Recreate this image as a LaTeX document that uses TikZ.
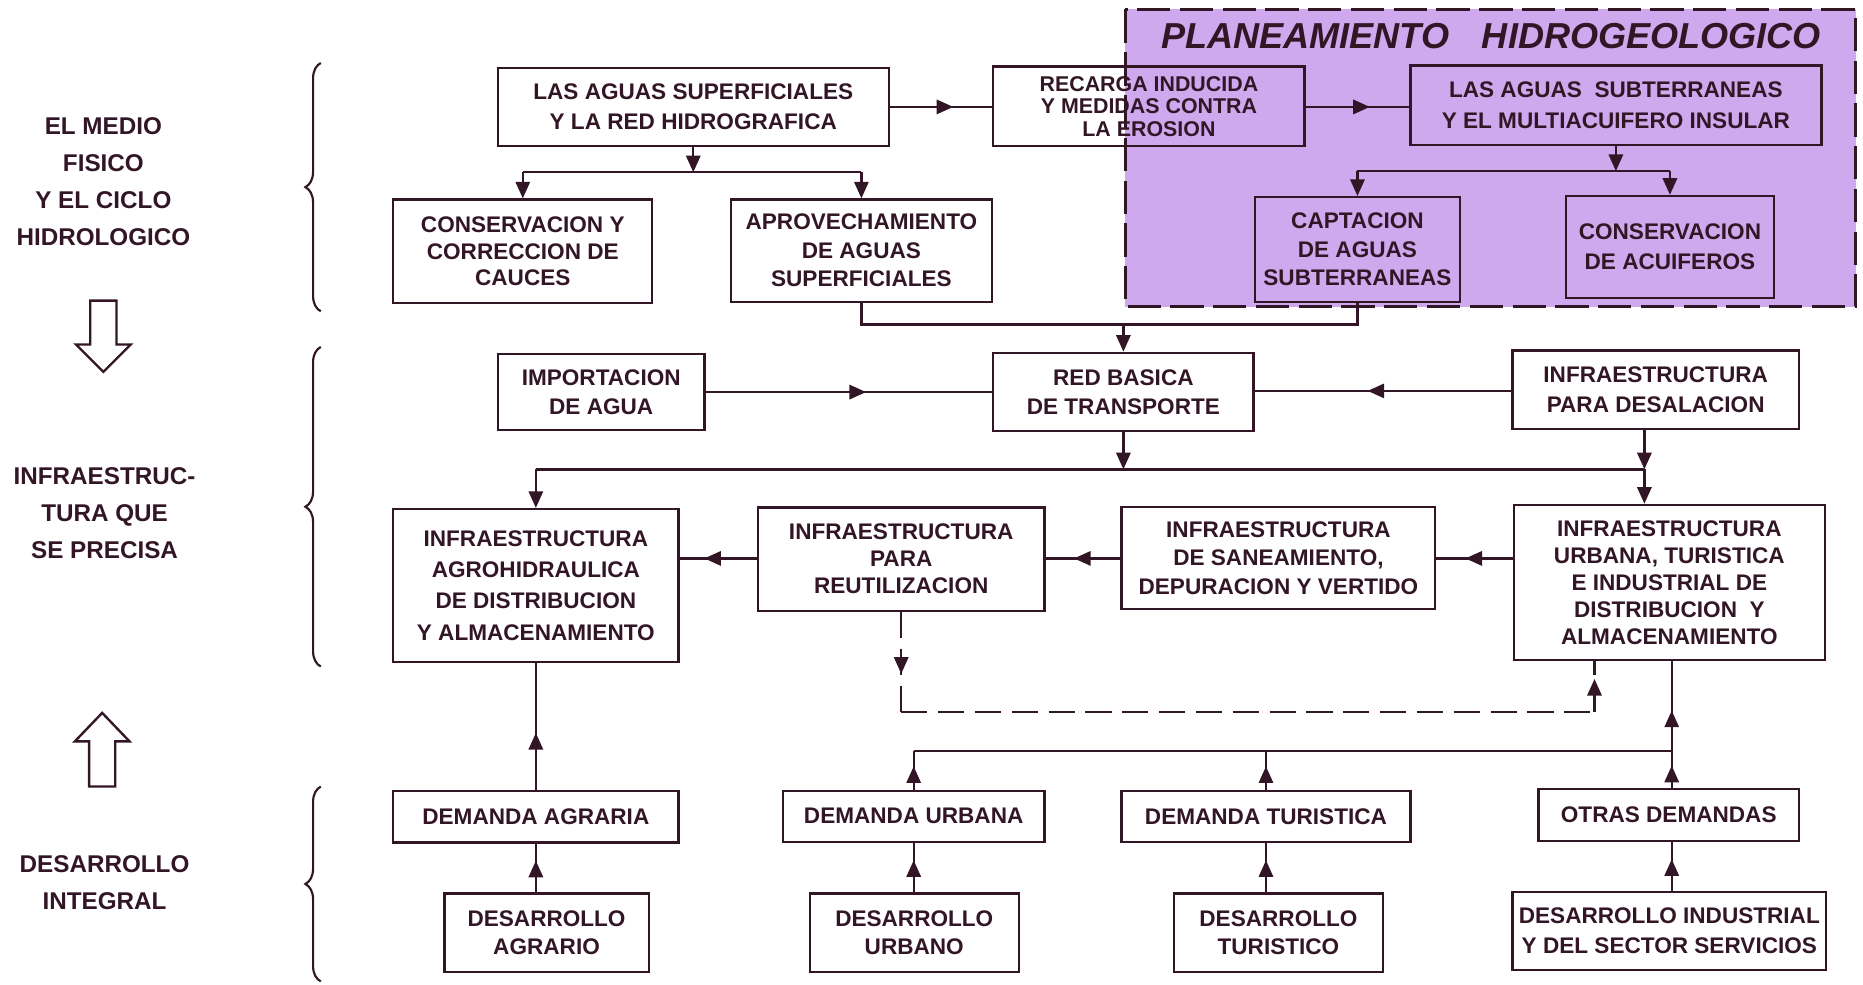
\documentclass[tikz,border=0pt]{standalone}
\usepackage{fontspec}
\setmainfont{Liberation Sans}
\usetikzlibrary{arrows.meta,decorations.markings,decorations.pathreplacing}
\definecolor{ink}{RGB}{50,22,38}
\definecolor{lav}{RGB}{207,169,238}
\newcommand{\fs}[2]{\fontsize{#1}{#2}\selectfont\bfseries}
\begin{document}
\begin{tikzpicture}[x=0.5pt,y=-0.5pt,
  bx/.style={draw=ink,line width=1pt,align=center,inner sep=0pt,text=ink,font=\fs{9.5}{12}},
  lab/.style={align=center,inner sep=0pt,text=ink,font=\fs{10.2}{15.6}},
  ln/.style={draw=ink,line width=1pt},
  tip/.style={-{Triangle[length=7pt,width=6pt]}},
  marr/.style={postaction={decorate},decoration={markings,mark=at position #1 with {\arrow{Triangle[length=7pt,width=6pt]}}}},
  dsh/.style={dash pattern=on 11pt off 4.5pt},
  brc/.style={draw=ink,line width=0.9pt,decorate,decoration={brace,amplitude=6.5pt}}]
\useasboundingbox (0,0) rectangle (1568,828.2);
% planeamiento region
\fill[lav] (947,8) rectangle (1562,258);
\node[text=ink,inner sep=0pt,font=\fontsize{15.2}{17}\selectfont\bfseries\itshape] (title) at (1255,30) {PLANEAMIENTO\hspace{0.9em}HIDROGEOLOGICO};
% left labels
\node[lab] (l1) at (87,153) {EL MEDIO\\FISICO\\Y EL CICLO\\HIDROLOGICO};
\node[lab] (l2) at (88,432) {INFRAESTRUC-\\TURA QUE\\SE PRECISA};
\node[lab] (l3) at (88,743) {DESARROLLO\\INTEGRAL};
% hollow arrows
\draw[ln,line join=miter] (76,253) -- (98,253) -- (98,290) -- (110,290) -- (87,313) -- (64,290) -- (76,290) -- cycle;
\draw[ln,line join=miter] (75,662) -- (97,662) -- (97,624) -- (109,624) -- (86,600) -- (63,624) -- (75,624) -- cycle;
% braces
\draw[brc] (270,262) -- (270,53);
\draw[brc] (270,561) -- (270,292);
\draw[brc] (270,826) -- (270,662);
% row 1
\node[bx,minimum width=164.5pt,minimum height=33pt,font=\fs{9.5}{12.5}] (A) at (583.5,90) {LAS AGUAS SUPERFICIALES\\Y LA RED HIDROGRAFICA};
\node[bx,minimum width=131pt,minimum height=33.5pt,font=\fs{9}{9.4}] (B) at (967,89.5) {RECARGA INDUCIDA\\Y MEDIDAS CONTRA\\LA EROSION};
\node[bx,minimum width=173pt,minimum height=33.5pt,font=\fs{9.5}{13}] (C) at (1360,88.5) {LAS AGUAS\ \ SUBTERRANEAS\\Y EL MULTIACUIFERO INSULAR};
% row 2
\node[bx,minimum width=109pt,minimum height=43.5pt,font=\fs{9.5}{11.3}] (D) at (440,211.5) {CONSERVACION Y\\CORRECCION DE\\CAUCES};
\node[bx,minimum width=110pt,minimum height=43pt] (E) at (725,211) {APROVECHAMIENTO\\DE AGUAS\\SUPERFICIALES};
\node[bx,minimum width=86.5pt,minimum height=44pt] (F) at (1142.5,210) {CAPTACION\\DE AGUAS\\SUBTERRANEAS};
\node[bx,minimum width=87.5pt,minimum height=43pt,font=\fs{9.5}{12.6}] (G) at (1405.5,208) {CONSERVACION\\DE ACUIFEROS};
% row 3
\node[bx,minimum width=87pt,minimum height=32pt] (I) at (506,330) {IMPORTACION\\DE AGUA};
\node[bx,minimum width=109.5pt,minimum height=33pt] (H) at (945.5,330) {RED BASICA\\DE TRANSPORTE};
\node[bx,minimum width=120.5pt,minimum height=33pt,font=\fs{9.5}{12.6}] (J) at (1393.5,328) {INFRAESTRUCTURA\\PARA DESALACION};
% row 4
\node[bx,minimum width=120pt,minimum height=64.25pt,font=\fs{9.5}{13.25}] (L) at (451,492.75) {INFRAESTRUCTURA\\AGROHIDRAULICA\\DE DISTRIBUCION\\Y ALMACENAMIENTO};
\node[bx,minimum width=120.5pt,minimum height=43.5pt,font=\fs{9.5}{11.3}] (M) at (758.5,470.5) {INFRAESTRUCTURA\\PARA\\REUTILIZACION};
\node[bx,minimum width=132pt,minimum height=43pt] (N) at (1076,469.6) {INFRAESTRUCTURA\\DE SANEAMIENTO,\\DEPURACION Y VERTIDO};
\node[bx,minimum width=131pt,minimum height=65.3pt,font=\fs{9.5}{11.3}] (K) at (1405,490.3) {INFRAESTRUCTURA\\URBANA, TURISTICA\\E INDUSTRIAL DE\\DISTRIBUCION\ \ Y\\ALMACENAMIENTO};
% row 5
\node[bx,minimum width=120pt,minimum height=21.5pt] (P) at (451,687.5) {DEMANDA AGRARIA};
\node[bx,minimum width=110pt,minimum height=21.5pt] (Q) at (769,687) {DEMANDA URBANA};
\node[bx,minimum width=121.5pt,minimum height=21.5pt] (R) at (1065.5,687) {DEMANDA TURISTICA};
\node[bx,minimum width=109.5pt,minimum height=22pt] (S) at (1404.5,686) {OTRAS DEMANDAS};
% row 6
\node[bx,minimum width=86pt,minimum height=33pt] (T) at (460,785) {DESARROLLO\\AGRARIO};
\node[bx,minimum width=88pt,minimum height=33pt] (U) at (769.5,785) {DESARROLLO\\URBANO};
\node[bx,minimum width=88pt,minimum height=33pt] (V) at (1076,785) {DESARROLLO\\TURISTICO};
\node[bx,minimum width=132pt,minimum height=33pt,font=\fs{9.5}{12.6}] (W) at (1405,783.5) {DESARROLLO INDUSTRIAL\\Y DEL SECTOR SERVICIOS};
% junction coordinates
\coordinate (jA) at (583.5,145);
\coordinate (jD) at (440,145);
\coordinate (jE) at (725,145);
\coordinate (jC) at (1360,144);
\coordinate (jF) at (1142.5,144);
\coordinate (jG) at (1405.5,144);
\coordinate (eb) at (725,273);
\coordinate (fb) at (1142.5,273);
\coordinate (jL) at (451,395);
\coordinate (jJ) at (1384,395);
\coordinate (dm) at (758.5,599);
\coordinate (dk) at (1342,599);
\coordinate (jQ) at (769,632);
\coordinate (jS) at (1407,632);
% row 1 connectors
\draw[ln,marr=0.62] (A.east |- 0,90) -- (B.west |- 0,90);
\draw[ln,marr=0.62] (B.east |- 0,90) -- (C.west |- 0,90);
\draw[ln,tip] (A.south) -- (jA);
\draw[ln] (jD) -- (jE);
\draw[ln,tip] (jD) -- (D.north);
\draw[ln,tip] (jE) -- (E.north);
\draw[ln,tip] (C.south) -- (jC);
\draw[ln] (jF) -- (jG);
\draw[ln,tip] (jF) -- (F.north);
\draw[ln,tip] (jG) -- (G.north);
% to red basica
\draw[ln] (E.south) -- (eb) -- (fb) -- (F.south);
\draw[ln,tip] (H.north |- eb) -- (H.north);
% row 3 connectors
\draw[ln,marr=0.56] (I.east |- 0,330) -- (H.west |- 0,330);
\draw[ln,marr=0.56] (J.west |- 0,329) -- (H.east |- 0,329);
\draw[ln,tip] (H.south) -- (H.south |- jL);
\draw[ln,tip] (J.south -| jJ) -- (jJ);
\draw[ln,tip] (jJ) -- (K.north -| jJ);
\draw[ln] (jL) -- (jJ);
\draw[ln,tip] (jL) -- (L.north);
% row 4 connectors
\draw[ln,marr=0.62] (K.west |- 0,470) -- (N.east |- 0,470);
\draw[ln,marr=0.62] (N.west |- 0,470) -- (M.east |- 0,470);
\draw[ln,marr=0.68] (M.west |- 0,470) -- (L.east |- 0,470);
% dashed reuse loop
\draw[ln,dsh,marr=0.62] (M.south) -- (dm);
\draw[ln,dsh] (dm) -- (dk);
\draw[ln,dsh,marr=0.65] (dk) -- (K.south -| dk);
% demands
\draw[ln] (jQ) -- (jS);
\draw[ln,marr=0.6] (Q.north -| jQ) -- (jQ);
\draw[ln,marr=0.6] (R.north) -- (R.north |- jQ);
\draw[ln,marr=0.6] (S.north -| jS) -- (jS);
\draw[ln,marr=0.45] (jS) -- (K.south -| jS);
\draw[ln,marr=0.45] (P.north) -- (L.south);
\draw[ln,marr=0.65] (T.north -| P.south) -- (P.south);
\draw[ln,marr=0.65] (U.north -| Q.south) -- (Q.south);
\draw[ln,marr=0.65] (V.north -| R.south) -- (R.south);
\draw[ln,marr=0.65] (W.north -| jS) -- (S.south -| jS);
% dashed border of region
\draw[ink,line width=1.2pt,dash pattern=on 14pt off 4pt] (947,8) rectangle (1562,258);
\end{tikzpicture}
\end{document}
